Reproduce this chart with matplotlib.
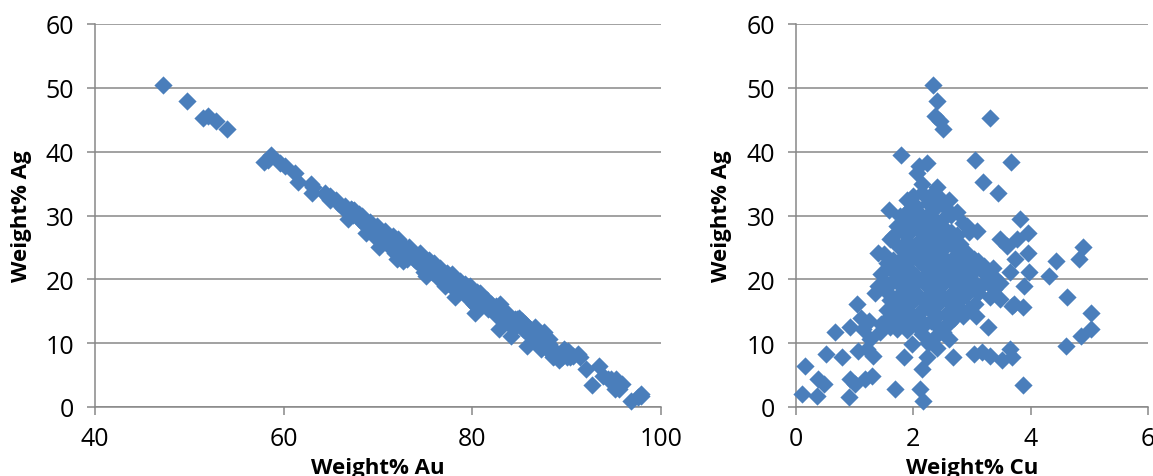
import matplotlib
matplotlib.use("Agg")
import matplotlib.pyplot as plt

# Per-sample data: weight% Au, Ag, Cu
cu = [2.33, 2.40, 2.37, 2.45, 2.51, 3.30, 1.79, 3.05, 3.66, 3.19, 3.45, 2.09, 2.23, 2.06, 2.15, 2.40, 2.30,
      1.58, 3.82, 3.96, 4.89, 4.82, 4.44, 4.31, 4.62, 5.03, 5.02, 4.85, 4.60, 3.87, 3.87, 3.98, 3.96, 3.71,
      3.28, 3.07, 3.51, 3.65, 3.68, 3.03, 3.17, 3.31, 2.68, 2.60, 2.23, 2.14, 2.12, 2.17, 1.69, 1.84, 1.97,
      0.15, 0.10, 0.35, 0.38, 0.47, 0.51, 0.67, 0.78, 0.91, 0.92, 1.01, 0.92, 1.04, 1.06, 1.18, 1.29, 1.32,
      1.15, 1.26, 1.21, 1.43, 1.35, 1.40, 1.55, 1.60, 1.72, 1.77, 1.89, 2.00, 1.72, 1.55, 1.63, 2.91, 3.08,
      2.74, 3.48, 3.59, 3.76, 3.48, 3.37, 3.25, 3.03, 3.20, 3.65, 3.74, 3.48, 3.88, 3.68,
      2.05, 2.25, 2.45, 2.55, 1.95,
      1.85, 2.10, 2.30, 2.50, 2.65, 2.20,
      1.80, 2.00, 2.15, 2.35, 2.55, 2.75, 2.95, 1.65,
      1.90, 2.05, 2.25, 2.40, 2.60, 2.80, 1.75, 2.15, 2.50,
      1.50, 1.85, 2.00, 2.30, 2.45, 2.70, 2.90, 1.65, 2.10, 2.60, 3.10,
      1.60, 1.80, 1.95, 2.20, 2.40, 2.55, 2.75, 2.95, 3.15, 3.35, 1.45, 2.05, 2.85,
      1.50, 1.70, 1.90, 2.15, 2.35, 2.50, 2.65, 2.80, 3.00, 3.20, 3.40, 2.25, 1.40,
      1.55, 1.75, 1.95, 2.10, 2.30, 2.50, 2.70, 2.90, 3.10, 3.30, 2.00, 2.60, 1.60,
      1.70, 1.85, 2.20, 2.40, 2.75, 2.95, 1.55, 2.10, 2.55, 2.85, 3.05,
      1.75, 1.95, 2.30, 2.70, 1.45, 2.05, 2.45, 1.25, 1.10, 2.15, 2.35, 2.50, 1.90,
      2.40, 2.25, 2.55,
      2.35, 2.15, 2.60,
      1.95, 2.40, 2.85, 2.05,
      1.90, 2.25, 2.45, 2.65,
      1.95, 2.35, 2.70, 2.20,
      1.95, 2.25, 2.50, 2.80, 2.40,
      1.70, 2.30, 2.65, 3.00, 1.90,
      1.60, 2.00, 2.45, 2.90, 3.10, 1.80,
      1.80, 2.20, 2.40, 2.80, 1.90,
      1.90, 2.30, 2.65, 1.65, 2.40,
      1.85, 2.20, 2.60, 1.60]

ag = [50.5, 47.9, 45.6, 44.8, 43.5, 45.2, 39.5, 38.7, 38.4, 35.3, 33.6, 37.8, 38.2, 36.7, 35.0, 34.5, 33.2,
      30.9, 29.4, 27.3, 25.0, 23.2, 22.9, 20.6, 17.2, 14.7, 12.2, 11.1, 9.6, 3.4, 15.6, 21.1, 24.2, 16.1,
      12.5, 14.3, 7.3, 9.1, 7.8, 8.3, 8.6, 8.0, 7.8, 10.6, 7.8, 5.9, 2.8, 1.0, 2.8, 7.8, 9.9,
      6.5, 2.0, 1.8, 4.4, 3.6, 8.3, 11.7, 7.8, 1.5, 4.4, 3.6, 12.5, 16.1, 8.8, 4.4, 4.9, 8.0,
      12.2, 10.6, 9.1, 11.7, 17.9, 24.2, 22.6, 26.3, 28.4, 29.9, 32.5, 33.1, 12.2, 13.8, 14.8, 28.4, 27.6,
      30.5, 26.3, 25.2, 26.3, 16.9, 18.5, 21.1, 23.2, 22.1, 21.1, 23.2, 19.5, 19.0, 15.9,
      31.5, 32.0, 32.8, 31.2, 31.0,
      30.2, 29.8, 30.5, 29.5, 30.1, 28.9,
      27.5, 28.0, 27.2, 28.3, 27.8, 27.0, 27.4, 26.8,
      26.0, 25.5, 26.4, 25.8, 26.2, 25.6, 25.0, 24.6, 24.8,
      24.0, 23.8, 24.2, 23.6, 24.0, 23.5, 24.3, 23.0, 22.8, 22.6, 22.9,
      21.8, 22.2, 21.5, 22.0, 21.3, 21.9, 21.6, 22.0, 21.4, 21.8, 20.8, 20.6, 20.4,
      19.8, 20.2, 19.6, 20.1, 19.5, 20.3, 19.7, 19.2, 19.9, 19.4, 20.2, 18.8, 18.9,
      18.0, 17.6, 18.2, 17.4, 17.9, 17.3, 18.1, 17.5, 17.8, 17.2, 16.6, 16.5, 16.8,
      15.8, 16.2, 15.6, 16.0, 15.9, 15.4, 15.2, 14.8, 14.6, 14.2, 16.2,
      13.8, 14.2, 13.5, 13.9, 13.0, 12.8, 12.2, 13.5, 14.0, 11.5, 10.8, 11.8, 12.0,
      9.2, 10.0, 12.8,
      31.0, 33.5, 32.5,
      29.0, 29.0, 28.8, 30.8,
      27.0, 27.6, 26.9, 27.4,
      24.8, 25.2, 25.0, 25.6,
      23.0, 23.2, 23.2, 22.8, 22.4,
      21.0, 20.8, 20.9, 21.0, 20.8,
      19.2, 19.0, 18.8, 18.6, 18.9, 18.8,
      17.0, 16.8, 17.0, 16.8, 17.4,
      15.2, 15.0, 15.2, 14.6, 14.2,
      13.0, 13.0, 13.2, 12.5]

au = [47.2, 49.7, 52.0, 52.8, 54.0, 51.5, 58.7, 58.3, 57.9, 61.5, 63.0, 60.1, 59.6, 61.2, 62.9, 63.1, 64.5,
      67.5, 66.8, 68.7, 70.1, 72.0, 72.7, 75.1, 78.2, 80.3, 82.8, 84.1, 85.8, 92.7, 80.5, 74.9, 71.8, 80.2,
      84.2, 82.6, 89.2, 87.3, 88.5, 88.7, 88.2, 88.7, 89.5, 86.8, 90.0, 92.0, 95.1, 96.8, 95.5, 90.4, 88.1,
      93.4, 97.9, 97.9, 95.2, 95.9, 91.2, 87.6, 91.4, 97.6, 94.7, 95.4, 86.6, 82.9, 90.1, 94.4, 93.8, 90.7,
      86.7, 88.1, 89.7, 86.9, 80.8, 74.4, 75.9, 72.1, 69.9, 68.3, 65.6, 64.9, 86.1, 84.7, 83.6, 68.7, 69.3,
      66.8, 70.2, 71.2, 69.9, 79.6, 78.1, 75.7, 73.8, 74.7, 75.3, 73.1, 77.0, 77.1, 80.4,
      66.5, 65.8, 64.8, 66.3, 67.1,
      68.0, 68.1, 67.2, 68.0, 67.3, 68.9,
      70.7, 70.0, 70.7, 69.4, 69.7, 70.3, 69.7, 71.6,
      72.1, 72.5, 71.4, 71.8, 71.2, 71.6, 73.3, 73.3, 72.7,
      74.5, 74.4, 73.8, 74.1, 73.6, 73.8, 72.8, 75.4, 75.1, 74.8, 74.0,
      76.6, 76.0, 76.6, 75.8, 76.3, 75.6, 75.7, 75.1, 75.5, 74.9, 77.8, 77.4, 76.8,
      78.7, 78.1, 78.5, 77.8, 78.2, 77.2, 77.7, 78.0, 77.1, 77.4, 76.4, 79.0, 79.7,
      80.5, 80.7, 79.9, 80.5, 79.8, 80.2, 79.2, 79.6, 79.1, 79.5, 81.4, 80.9, 81.6,
      82.5, 82.0, 82.2, 81.6, 81.4, 81.7, 83.3, 83.1, 82.9, 83.0, 80.8,
      84.5, 83.9, 84.2, 83.4, 85.6, 85.2, 85.4, 85.3, 84.9, 86.4, 86.9, 85.7, 86.1,
      88.4, 87.8, 84.7,
      66.7, 64.4, 64.9,
      69.1, 68.6, 68.4, 67.2,
      71.1, 70.2, 70.7, 70.0,
      73.3, 72.5, 72.3, 72.2,
      75.1, 74.6, 74.3, 74.4, 75.2,
      77.3, 76.9, 76.5, 76.0, 77.3,
      79.2, 79.0, 78.8, 78.5, 78.0, 79.4,
      81.2, 81.0, 80.6, 80.4, 80.7,
      82.9, 82.7, 82.2, 83.8, 83.4,
      85.2, 84.8, 84.2, 85.9]

x_ticks_au = [40, 60, 80, 100]
x_ticks_cu = [0, 2, 4, 6]
y_ticks = [0, 10, 20, 30, 40, 50, 60]

FONT = "Open Sans"
MARK = "#4a7ebb"
GRID = "#878787"

W, H = 1153, 477
fig = plt.figure(figsize=(W / 100, H / 100), dpi=100)

def px_ax(l, r, t, b):
    return [l / W, (H - b) / H, (r - l) / W, (b - t) / H]

ax1 = fig.add_axes(px_ax(95, 661, 25, 408))
ax2 = fig.add_axes(px_ax(796, 1148, 25, 408))

panels = [(ax1, au, x_ticks_au, "Weight% Au", 378, 22),
          (ax2, cu, x_ticks_cu, "Weight% Cu", 972, 722)]

for ax, xs, xt, xl, xc, yc in panels:
    ax.set_xlim(xt[0], xt[-1])
    ax.set_ylim(y_ticks[0], y_ticks[-1])
    ax.set_xticks(xt)
    ax.set_yticks(y_ticks)
    ax.set_axisbelow(True)
    ax.yaxis.grid(True, color=GRID, linewidth=1.1)
    ax.xaxis.grid(False)
    for s in ["top", "right"]:
        ax.spines[s].set_visible(False)
    for s in ["left", "bottom"]:
        ax.spines[s].set_color(GRID)
        ax.spines[s].set_linewidth(1.1)
    ax.tick_params(axis="both", direction="out", length=6, width=1.1, color=GRID,
                   labelsize=18, labelcolor="black")
    ax.tick_params(axis="y", pad=9)
    ax.tick_params(axis="x", pad=8)
    for lab in ax.get_xticklabels() + ax.get_yticklabels():
        lab.set_fontfamily(FONT)
    ax.scatter(xs, ag, marker="D", s=86, color=MARK, linewidths=0, zorder=3, clip_on=False)
    fig.text(xc / W, (H - 474) / H, xl, ha="center", va="baseline",
             fontsize=16, fontweight="bold", family=FONT)
    fig.text(yc / W, (H - 216.5) / H, "Weight% Ag", ha="center", va="center",
             rotation=90, fontsize=16, fontweight="bold", family=FONT)

fig.savefig("out.png", dpi=100, facecolor="white")
